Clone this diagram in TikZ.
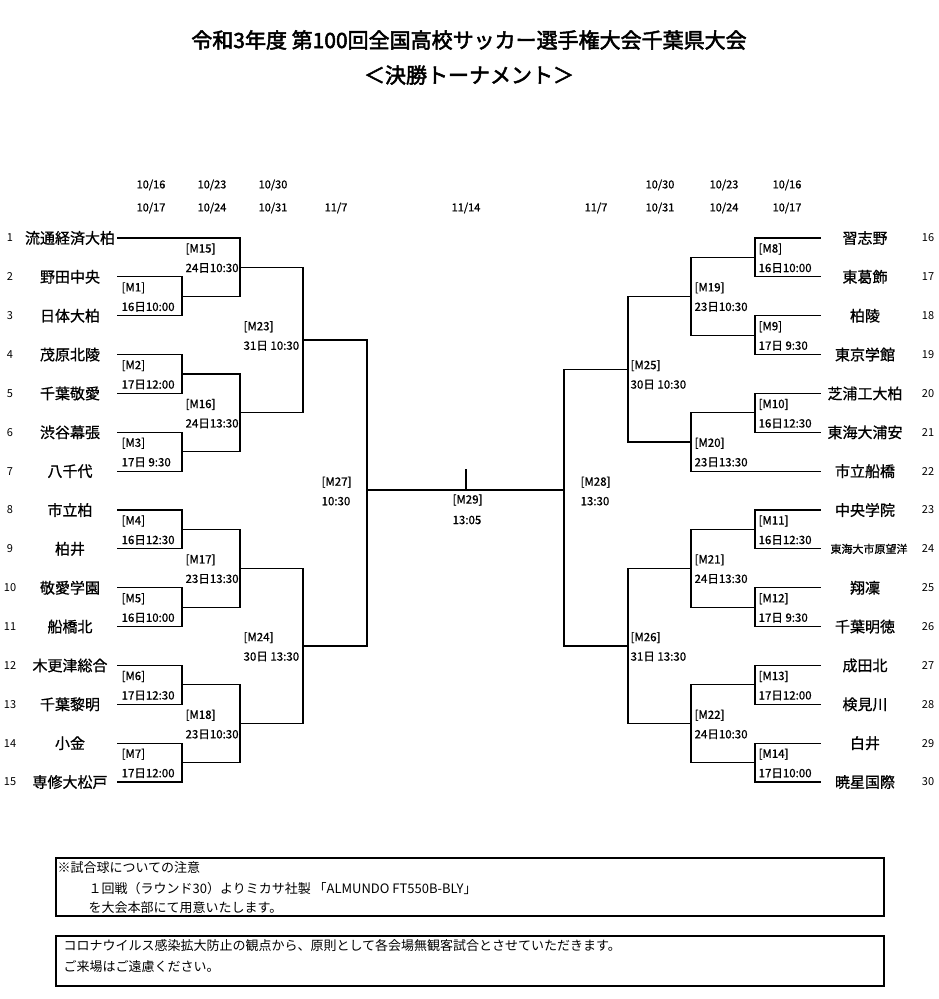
\documentclass[tikz,border=0pt]{standalone}
\usepackage{fontspec}
\setmainfont{Noto Sans CJK JP}
\newfontfamily\cjkbold{Noto Sans CJK JP}[FakeBold=2.5]
\newfontfamily\cjkmed{Noto Sans CJK JP}[FakeBold=0.8]
\begin{document}
\begin{tikzpicture}[x=1pt,y=-1pt,line width=1.2pt,line cap=rect,
  team/.style={font=\cjkmed\fontsize{15}{15}\selectfont,inner sep=0pt},
  num/.style={font=\fontsize{11}{11}\selectfont,inner sep=0pt},
  mlab/.style={font=\cjkmed\fontsize{11.5}{11.5}\selectfont,inner sep=0pt,anchor=west},
  datel/.style={font=\cjkmed\fontsize{11}{11}\selectfont,inner sep=0pt},
  note/.style={font=\fontsize{13}{13}\selectfont,inner sep=0pt,anchor=west},
  nbox/.style={draw,line width=2pt}]
\def\Y#1{{238+(#1-1)*38.86}}
\useasboundingbox (0,0) rectangle (938,999);
\fill[white] (0,0) rectangle (938,999);
% title
\node[font=\cjkbold\fontsize{21}{21}\selectfont] (title1) at (469,40) {令和3年度 第100回全国高校サッカー選手権大会千葉県大会};
\node[font=\cjkbold\fontsize{21}{21}\selectfont] (title2) at (469,75) {＜決勝トーナメント＞};
% dates
\foreach \x/\a/\b [count=\k] in {151/10\slash16/10\slash17,212/10\slash23/10\slash24,273/10\slash30/10\slash31,660/10\slash30/10\slash31,724/10\slash23/10\slash24,787/10\slash16/10\slash17}{
  \node[datel] (da\k) at (\x,185) {\a};
  \node[datel] (db\k) at (\x,208) {\b};}
\node[datel] (d7l) at (336,208) {11/7};
\node[datel] (d14) at (466,208) {11/14};
\node[datel] (d7r) at (596,208) {11/7};
% left teams
\foreach \n [count=\i] in {流通経済大柏,野田中央,日体大柏,茂原北陵,千葉敬愛,渋谷幕張,八千代,市立柏,柏井,敬愛学園,船橋北,木更津総合,千葉黎明,小金,専修大松戸}{
  \node[num] (n\i) at (10,\Y{\i}) {\i};
  \node[team] (t\i) at (70,\Y{\i}) {\n};}
% right teams
\foreach \n [count=\r] in {習志野,東葛飾,柏陵,東京学館,芝浦工大柏,東海大浦安,市立船橋,中央学院,X,翔凜,千葉明徳,成田北,検見川,白井,暁星国際}{
  \pgfmathtruncatemacro\j{\r+15}
  \node[num] (n\j) at (928,\Y{\r}) {\j};
  \ifnum\r=9
    \node[team,font=\cjkmed\fontsize{11}{11}\selectfont] (t\j) at (869,\Y{\r}) {東海大市原望洋};
  \else
    \node[team] (t\j) at (865,\Y{\r}) {\n};
  \fi}
% left lines
\draw (118,\Y{1}) -- (240,\Y{1});
\foreach \i in {2,...,15} \draw (118,\Y{\i}) -- (182,\Y{\i});
\foreach \a/\b in {2/3,4/5,6/7,8/9,10/11,12/13,14/15}{
  \draw (182,\Y{\a}) -- (182,\Y{\b});
  \draw (182,\Y{(\a+\b)/2}) -- (240,\Y{(\a+\b)/2});}
\foreach \a/\b in {1/2.5,4.5/6.5,8.5/10.5,12.5/14.5}{
  \draw (240,\Y{\a}) -- (240,\Y{\b});
  \draw (240,\Y{(\a+\b)/2}) -- (303,\Y{(\a+\b)/2});}
\foreach \a/\b in {1.75/5.5,9.5/13.5}{
  \draw (303,\Y{\a}) -- (303,\Y{\b});
  \draw (303,\Y{(\a+\b)/2}) -- (367,\Y{(\a+\b)/2});}
\draw (367,\Y{3.625}) -- (367,\Y{11.5});
% right lines
\draw (820,\Y{7}) -- (691,\Y{7});
\foreach \i in {1,2,3,4,5,6,8,9,10,11,12,13,14,15} \draw (820,\Y{\i}) -- (755,\Y{\i});
\foreach \a/\b in {1/2,3/4,5/6,8/9,10/11,12/13,14/15}{
  \draw (755,\Y{\a}) -- (755,\Y{\b});
  \draw (755,\Y{(\a+\b)/2}) -- (691,\Y{(\a+\b)/2});}
\foreach \a/\b in {1.5/3.5,5.5/7,8.5/10.5,12.5/14.5}{
  \draw (691,\Y{\a}) -- (691,\Y{\b});
  \draw (691,\Y{(\a+\b)/2}) -- (628,\Y{(\a+\b)/2});}
\foreach \a/\b in {2.5/6.25,9.5/13.5}{
  \draw (628,\Y{\a}) -- (628,\Y{\b});
  \draw (628,\Y{(\a+\b)/2}) -- (564,\Y{(\a+\b)/2});}
\draw (564,\Y{4.375}) -- (564,\Y{11.5});
% final
\coordinate (fl) at (367,490);
\coordinate (fr) at (564,490);
\coordinate (ftop) at (466,470);
\coordinate (fmid) at (466,490);
\draw (fl) -- (fr);
\draw (ftop) -- (fmid);
% match labels
\foreach \m/\x/\r/\t in {1/121/2/16日10:00,2/121/4/17日12:00,3/121/6/17日 9:30,4/121/8/16日12:30,5/121/10/16日10:00,6/121/12/17日12:30,7/121/14/17日12:00,
 15/185/1/24日10:30,16/185/5/24日13:30,17/185/9/23日13:30,18/185/13/23日10:30,
 23/243/3/31日 10:30,24/243/11/30日 13:30,27/321/7/10:30,
 8/758/1/16日10:00,9/758/3/17日 9:30,10/758/5/16日12:30,11/758/8/16日12:30,12/758/10/17日 9:30,13/758/12/17日12:00,14/758/14/17日10:00,
 19/694/2/23日10:30,20/694/6/23日13:30,21/694/9/24日13:30,22/694/13/24日10:30,
 25/630/4/30日 10:30,26/630/11/31日 13:30,28/580/7/13:30}{
  \node[mlab] (M\m) at (\x,{238+(\r-1)*38.86+11}) {[M\m]};
  \node[mlab] (T\m) at (\x,{238+(\r-1)*38.86+30}) {\t};}
\node[mlab] (M29) at (452,500) {[M29]};
\node[mlab] (T29) at (452,520) {13:05};
% notes
\node[nbox,minimum width=828pt,minimum height=58pt,anchor=north west] (box1) at (55,857) {};
\node[nbox,minimum width=828pt,minimum height=50pt,anchor=north west] (box2) at (55,935) {};
\node[note] (n1) at (57,868) {※試合球についての注意};
\node[note] (n2) at (88,889) {１回戦（ラウンド30）よりミカサ社製 「ALMUNDO FT550B-BLY」};
\node[note] (n3) at (88,908) {を大会本部にて用意いたします。};
\node[note] (n4) at (63,946) {コロナウイルス感染拡大防止の観点から、原則として各会場無観客試合とさせていただきます。};
\node[note] (n5) at (63,967) {ご来場はご遠慮ください。};
\end{tikzpicture}
\end{document}
